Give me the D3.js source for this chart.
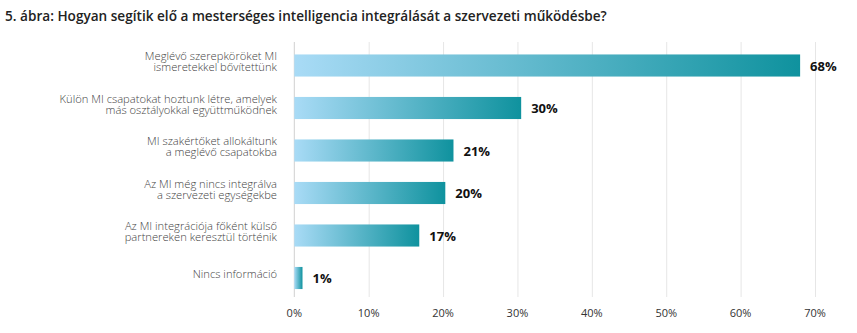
<!DOCTYPE html>
<html><head><meta charset="utf-8">
<script src="https://cdn.jsdelivr.net/npm/d3@7"></script>
<style>body{margin:0;background:#fff;} svg{display:block;font-family:"Open Sans",sans-serif;}</style>
</head><body>
<svg id="c" width="857" height="333"></svg>
<script>
const title = "5. ábra: Hogyan segítik elő a mesterséges intelligencia integrálását a szervezeti működésbe?";
const categories = [
  ["Meglévő szerepköröket MI", "ismeretekkel bővítettünk"],
  ["Külön MI csapatokat hoztunk létre, amelyek", "más osztályokkal együttműködnek"],
  ["MI szakértőket allokáltunk", "a meglévő csapatokba"],
  ["Az MI még nincs integrálva", "a szervezeti egységekbe"],
  ["Az MI integrációja főként külső", "partnereken keresztül történik"],
  ["Nincs információ"]
];
const values = [68, 30.5, 21.4, 20.3, 16.8, 1.1];
const valueLabels = ["68%", "30%", "21%", "20%", "17%", "1%"];
const ticks = [0, 10, 20, 30, 40, 50, 60, 70];

const svg = d3.select("#c");
const x = d3.scaleLinear().domain([0, 70]).range([294.3, 815]);
const y = d3.scaleBand().domain(d3.range(categories.length)).range([44.25, 299.25]).paddingInner(0.48).paddingOuter(0.24);

const defs = svg.append("defs");
const grad = defs.append("linearGradient").attr("id", "g").attr("x1", "0").attr("x2", "1").attr("y1", "0").attr("y2", "0");
grad.append("stop").attr("offset", "0").attr("stop-color", "#a9dbf6");
grad.append("stop").attr("offset", "1").attr("stop-color", "#0f929e");

svg.append("text").attr("x", 5).attr("y", 21).attr("font-size", 13.6).attr("font-weight", 600).attr("fill", "#222").text(title);

// gridlines
svg.append("g").selectAll("line").data(ticks.slice(1)).join("line")
  .attr("x1", d => x(d) + 0.5).attr("x2", d => x(d) + 0.5).attr("y1", 42).attr("y2", 297)
  .attr("stroke", "#e6e6e6").attr("stroke-width", 1);
svg.append("line").attr("x1", x(0)).attr("x2", x(0)).attr("y1", 42).attr("y2", 297)
  .attr("stroke", "#d0d0d0").attr("stroke-width", 1);

// tick labels
svg.append("g").selectAll("text").data(ticks).join("text")
  .attr("x", d => x(d)).attr("y", 317).attr("text-anchor", "middle")
  .attr("font-size", 11).attr("fill", "#333").text(d => d + "%");

// bars
svg.append("g").selectAll("rect").data(values).join("rect")
  .attr("x", x(0)).attr("y", (d, i) => y(i)).attr("width", d => x(d) - x(0)).attr("height", y.bandwidth())
  .attr("fill", "url(#g)");

// value labels
svg.append("g").selectAll("text").data(values).join("text")
  .attr("x", d => x(d) + 10).attr("y", (d, i) => y(i) + y.bandwidth() / 2 + 5)
  .attr("font-size", 13).attr("font-weight", 700).attr("fill", "#111")
  .text((d, i) => valueLabels[i]);

// category labels (two-line labels in one text element)
const lh = 11;
svg.append("g").selectAll("text").data(categories).join("text")
  .attr("text-anchor", "end").attr("font-size", 11.2).attr("font-weight", 300).attr("fill", "#444")
  .each(function(lines, i) {
    const cy = y(i) + y.bandwidth() / 2;
    d3.select(this).selectAll("tspan").data(lines).join("tspan")
      .attr("x", 277)
      .attr("y", (t, j) => cy - (lines.length - 1) * lh / 2 + j * lh)
      .text(t => t);
  });
</script>
</body></html>
